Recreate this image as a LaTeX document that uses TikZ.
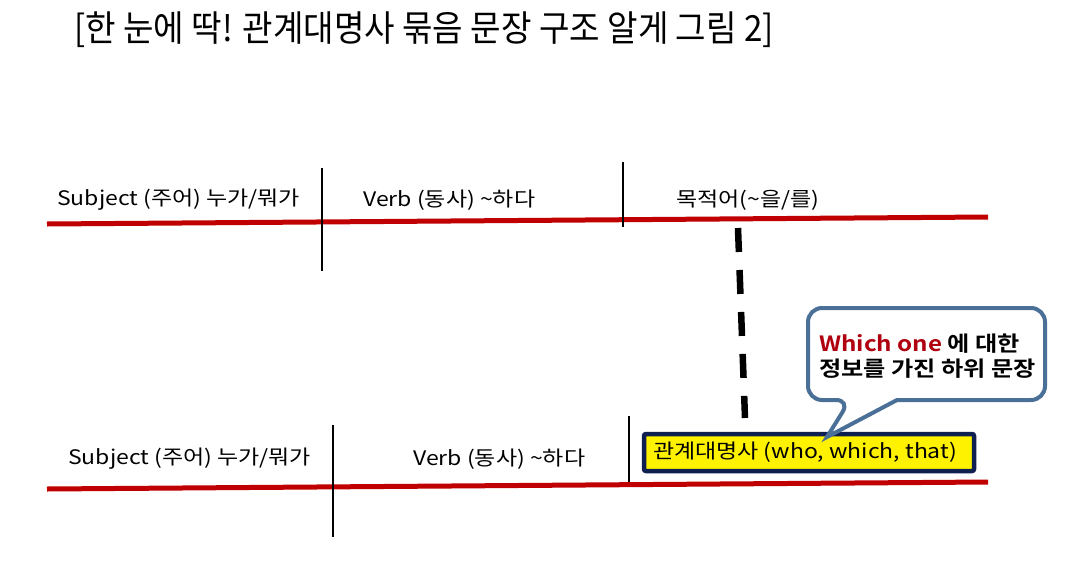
\documentclass[tikz,border=0pt]{standalone}
\usepackage{fontspec}
\setmainfont{Noto Sans CJK KR}[FakeStretch=1.15]
\newfontfamily\titlefont[FakeStretch=0.92]{Noto Sans CJK KR}
\newfontfamily\boldfont{Noto Sans CJK KR}[BoldFont={* Bold},BoldFeatures={FakeStretch=1.15}]
\definecolor{rline}{HTML}{C00000}
\definecolor{navy}{HTML}{0F1F4F}
\definecolor{steel}{HTML}{4A7098}
\definecolor{whichred}{HTML}{B00010}
\begin{document}
\begin{tikzpicture}[x=1pt,y=-1pt,
  lbl/.style={inner sep=0pt,font=\fontsize{20}{24}\selectfont},
  redline/.style={draw=rline,line width=5pt},
  bar/.style={draw=black,line width=2.6pt},
  dashlink/.style={draw=black,line width=6.5pt,dash pattern=on 24pt off 18pt},
  relbox/.style={draw=navy,line width=4.5pt,fill=yellow,rounded corners=2pt,minimum width=330pt,minimum height=37pt,inner sep=0pt,font=\fontsize{20}{24}\selectfont},
  callout/.style={draw=steel,line width=4pt,fill=white,rounded corners=14pt}]
\useasboundingbox (0,0) rectangle (1078,562);
% title
\node[inner sep=0pt,anchor=west,font=\titlefont\fontsize{36}{40}\selectfont] (title) at (74,30) {[한 눈에 딱! 관계대명사 묶음 문장 구조 알게 그림 2]};
% top sentence
\coordinate (t1) at (47,224);
\coordinate (t2) at (988,217);
\draw[redline] (t1) -- (t2);
\coordinate (tv1a) at (322,168); \coordinate (tv1b) at (322,271);
\coordinate (tv2a) at (623,162); \coordinate (tv2b) at (623,227);
\draw[bar] (tv1a) -- (tv1b);
\draw[bar] (tv2a) -- (tv2b);
\node[lbl,anchor=west] (subj1) at (57,200) {Subject (주어) 누가/뭐가};
\node[lbl,anchor=west] (verb1) at (363,200) {Verb (동사) \textasciitilde{}하다};
\node[lbl,anchor=west] (obj1) at (676,200) {목적어(\textasciitilde{}을/를)};
% bottom sentence
\coordinate (b1) at (47,489);
\coordinate (b2) at (988,482);
\draw[redline] (b1) -- (b2);
\coordinate (bv1a) at (333,425); \coordinate (bv1b) at (333,537);
\coordinate (bv2a) at (629,416); \coordinate (bv2b) at (629,482);
\draw[bar] (bv1a) -- (bv1b);
\draw[bar] (bv2a) -- (bv2b);
\node[lbl,anchor=west] (subj2) at (68,459) {Subject (주어) 누가/뭐가};
\node[lbl,anchor=west] (verb2) at (413,459) {Verb (동사) \textasciitilde{}하다};
\node[relbox] (rel) at (809,452.5) {\hspace*{-8pt}\raisebox{-3pt}{관계대명사 (who, which, that)}};
% dashed link
\coordinate (d1) at (738,228);
\coordinate (d2) at (745,418);
\draw[dashlink] (d1) -- (d2);
% callout
\coordinate (tip) at (827,437);
\draw[callout] (850,400) [sharp corners] -- (tip) -- (897,400) [rounded corners=14pt] -- (1045,400) -- (1045,308) -- (808,308) -- (808,400) -- cycle;
\node[inner sep=0pt,align=left,anchor=west,font=\boldfont\bfseries\fontsize{21}{25}\selectfont] (note) at (819,356) {\textcolor{whichred}{Which one} 에 대한\\정보를 가진 하위 문장};
\end{tikzpicture}
\end{document}
